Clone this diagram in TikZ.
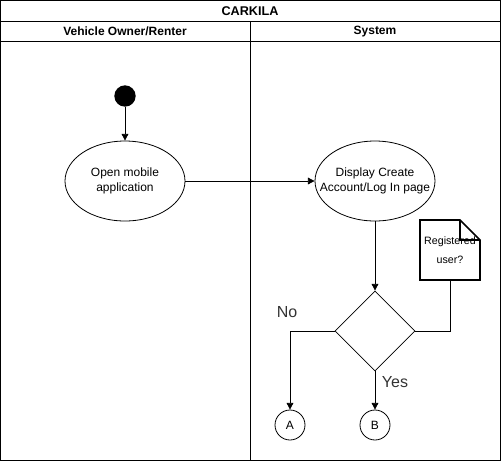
\documentclass[tikz,border=0pt]{standalone}
\usepackage{fontspec}
\setmainfont{Liberation Sans}
\usetikzlibrary{shapes.geometric,arrows.meta}
\begin{document}
\begin{tikzpicture}[x=0.75pt,y=-0.75pt,
  every node/.style={font=\fontsize{9}{11}\selectfont},
  lane/.style={draw=black,line width=0.75pt},
  act/.style={draw=black,ellipse,minimum width=90pt,minimum height=60pt,inner sep=0pt,line width=0.6pt},
  acttext/.style={align=center,inner sep=0pt},
  dec/.style={draw=black,diamond,minimum width=60pt,minimum height=60pt,inner sep=0pt,line width=0.6pt},
  conn/.style={draw=black,circle,minimum size=22.5pt,inner sep=0pt,line width=0.6pt},
  flow/.style={draw=black,line width=0.6pt,-{Triangle[length=5pt,width=5pt]}},
  plain/.style={draw=black,line width=0.6pt},
  hdr/.style={font=\bfseries\fontsize{9}{11}\selectfont},
  lbl/.style={font=\fontsize{12}{14}\selectfont,text=black!80}
]
\useasboundingbox (0,0) rectangle (501,462);
% pool
\draw[lane] (0.5,0.5) rectangle (500,460.5);
\draw[lane] (0.5,21) -- (500,21);
\draw[lane] (0.5,41) -- (500,41);
\draw[lane] (250,21) -- (250,460.5);
\node[hdr,font=\bfseries\fontsize{9.5}{11}\selectfont] (title) at (250,11.5) {CARKILA};
\node[hdr] (h1) at (125,31.5) {Vehicle Owner/Renter};
\node[hdr] (h2) at (375,31.5) {System};
% nodes
\node[circle,fill=black,minimum size=16pt,inner sep=0pt] (start) at (125,96) {};
\node[act] (open) at (125,181) {};
\node[acttext] (opent) at (125,181) {Open mobile\\application};
\node[act] (disp) at (375,181) {};
\node[acttext] (dispt) at (375,181) {Display Create\\Account/Log In page};
\node[dec] (d) at (375,331) {};
\node[conn] (A) at (290,425) {A};
\node[conn] (B) at (375,425) {B};
% note
\draw[line width=1.2pt] (420,220) -- (460,220) -- (480,240) -- (480,280) -- (420,280) -- cycle;
\draw[line width=1.2pt] (460,220) -- (460,240) -- (480,240);
\node[align=center,font=\fontsize{8}{14}\selectfont] (note) at (450,250) {Registered\\user?};
\coordinate (nb) at (450,280);
% edges
\draw[flow] (start) -- (open);
\draw[flow] (open) -- (disp);
\draw[flow] (disp) -- (d);
\draw[plain] (d.east) -| (nb);
\draw[flow] (d.west) -| (A);
\draw[flow] (d.south) -- (B);
\node[lbl] (no) at (287,312) {No};
\node[lbl] (yes) at (395,382) {Yes};
\end{tikzpicture}
\end{document}
